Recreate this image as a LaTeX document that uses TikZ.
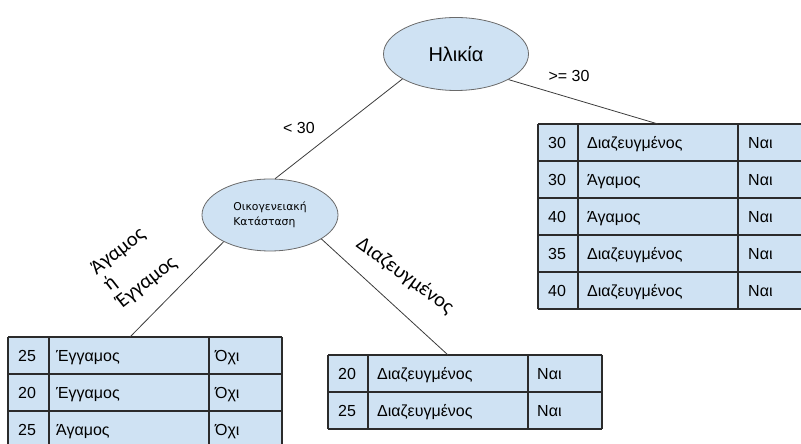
\documentclass[tikz,border=0pt]{standalone}
\usepackage{fontspec}
\setmainfont{Liberation Sans}
\newfontfamily\calib{Carlito}
\newfontfamily\dejav{DejaVu Sans}
\usetikzlibrary{shapes.geometric}
\definecolor{cellblue}{HTML}{CFE2F3}
\definecolor{tabgray}{HTML}{2B2B2B}
\definecolor{conngray}{HTML}{3C3C3C}
\definecolor{ovalgray}{HTML}{6A6A6A}
\begin{document}
\begin{tikzpicture}[x=1pt,y=1pt,
  oval/.style={ellipse, draw=ovalgray, fill=cellblue, line width=0.8pt, inner sep=0pt},
  conn/.style={draw=conngray, line width=0.8pt},
  tabline/.style={draw=tabgray, line width=1.1pt},
  tabtxt/.style={anchor=base west, inner sep=0pt, font=\fontsize{16}{19}\selectfont},
  lbl/.style={inner sep=0pt, font=\fontsize{16}{19}\selectfont},
  rlbl/.style={inner sep=0pt, font=\calib\fontsize{20.5}{21}\selectfont}
]
\useasboundingbox (0,0) rectangle (801,444);
\clip (0,0) rectangle (801,444);

% ellipses
\node[oval, minimum width=145pt, minimum height=73pt, font=\fontsize{20}{23}\selectfont] (age) at (456,390) {Ηλικία};
\node[oval, minimum width=136pt, minimum height=72pt, align=left, font=\dejav\fontsize{10.8}{14.5}\selectfont] (fam) at (270,229) {Οικογενειακή\\Κατάσταση};

% right table
\foreach \a/\b/\c [count=\i] in {30/Διαζευγμένος/Ναι, 30/Άγαμος/Ναι, 40/Άγαμος/Ναι, 35/Διαζευγμένος/Ναι, 40/Διαζευγμένος/Ναι}{
  \pgfmathsetmacro\yt{320-37*(\i-1)}
  \fill[cellblue] (538,\yt) rectangle (813,\yt-37);
  \node[tabtxt] (ra\i) at (548,\yt-25) {\a};
  \node[tabtxt] (rb\i) at (587,\yt-25) {\b};
  \node[tabtxt] (rc\i) at (748,\yt-25) {\c};
}
\foreach \yy in {320,283,246,209,172,135} \draw[tabline] (538,\yy) -- (813,\yy);
\foreach \xx in {538,578,738,813} \draw[tabline] (\xx,320) -- (\xx,135);
\coordinate (rt) at (658,320);

% left table
\foreach \a/\b/\c [count=\i] in {25/Έγγαμος/Όχι, 20/Έγγαμος/Όχι, 25/Άγαμος/Όχι}{
  \pgfmathsetmacro\yt{107-37*(\i-1)}
  \fill[cellblue] (8,\yt) rectangle (282,\yt-37);
  \node[tabtxt] (la\i) at (18,\yt-25) {\a};
  \node[tabtxt] (lb\i) at (56,\yt-25) {\b};
  \node[tabtxt] (lc\i) at (215,\yt-25) {\c};
}
\foreach \yy in {107,70,33,-4} \draw[tabline] (8,\yy) -- (282,\yy);
\foreach \xx in {8,49,209,282} \draw[tabline] (\xx,107) -- (\xx,-4);
\coordinate (lt) at (130,107);

% middle table
\foreach \a/\b/\c [count=\i] in {20/Διαζευγμένος/Ναι, 25/Διαζευγμένος/Ναι}{
  \pgfmathsetmacro\yt{89-37*(\i-1)}
  \fill[cellblue] (328,\yt) rectangle (602,\yt-37);
  \node[tabtxt] (ma\i) at (338,\yt-25) {\a};
  \node[tabtxt] (mb\i) at (377,\yt-25) {\b};
  \node[tabtxt] (mc\i) at (537,\yt-25) {\c};
}
\foreach \yy in {89,52,15} \draw[tabline] (328,\yy) -- (602,\yy);
\foreach \xx in {328,368,528,602} \draw[tabline] (\xx,89) -- (\xx,15);
\coordinate (mt) at (448,89);

% connectors
\draw[conn] (age.205) -- (fam.82);
\draw[conn] (age.334) -- (rt);
\draw[conn] (fam.210) -- (lt);
\draw[conn] (fam.335) -- (mt);

% labels
\node[lbl] (lless) at (299,316) {< 30};
\node[lbl] (lmore) at (569,368) {>= 30};
\node[rlbl, rotate=38, align=left] (lblA) at (134,178) {Άγαμος\\ή\\Έγγαμος};
\node[rlbl, rotate=-36] (lblB) at (405,168) {Διαζευγμένος};
\end{tikzpicture}
\end{document}
